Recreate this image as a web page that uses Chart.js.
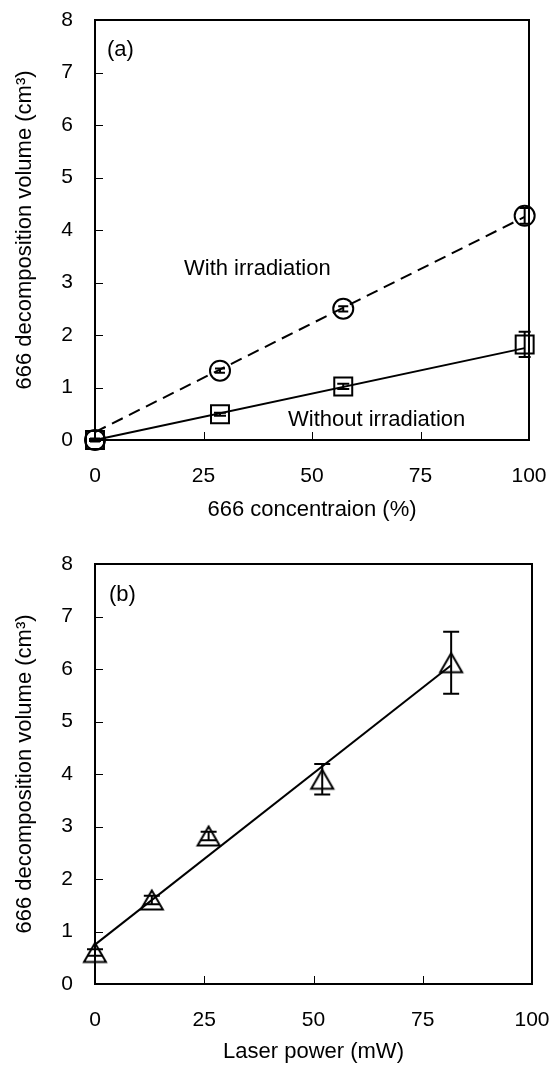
<!DOCTYPE html>
<html><head><meta charset="utf-8">
<script src="https://cdn.jsdelivr.net/npm/chart.js@4.4.1/dist/chart.umd.min.js"></script>
<style>
html,body{margin:0;padding:0;background:#fff;}
canvas{display:block;}
</style></head><body>
<canvas id="ca" width="549" height="530"></canvas>
<canvas id="cb" width="549" height="535"></canvas>
<script>
// ---------- data: panel (a) ----------
const concentration = [0, 28.8, 57.2, 99];
const withIrradiation = [0, 1.32, 2.5, 4.27];
const withIrradiationErr = [0.03, 0.04, 0.05, 0.15];
const withoutIrradiation = [0, 0.49, 1.02, 1.82];
const withoutIrradiationErr = [0.02, 0.03, 0.05, 0.24];
const fitWithX = [0, 99];
const fitWithY = [0.15, 4.25];
const fitWithoutX = [0, 99];
const fitWithoutY = [0, 1.75];
// ---------- data: panel (b) ----------
const laserPower = [0, 13, 26, 52, 81.5];
const volumeB = [0.6, 1.6, 2.82, 3.9, 6.12];
const volumeBErr = [0.06, 0.08, 0.08, 0.29, 0.59];
const fitBX = [0, 81.5];
const fitBY = [0.75, 6.07];
// ---------- ticks / labels ----------
const xTickValues = [0, 25, 50, 75, 100];
const yTickValues = [0, 1, 2, 3, 4, 5, 6, 7, 8];
const yTitle = '666 decomposition volume (cm³)';
const xTitleA = '666 concentraion (%)';
const xTitleB = 'Laser power (mW)';
const labelA = ['(a)', 'With irradiation', 'Without irradiation'];
const labelB = ['(b)'];

const TEXT_FONT = "'Liberation Sans', Arial, sans-serif";
const TICK_FONT = "'Liberation Sans Narrow', 'Liberation Sans', Arial, sans-serif";

function pts(xs, ys) { return xs.map((x, i) => ({x: x, y: ys[i]})); }

function triCanvas() {
  const c = document.createElement('canvas');
  c.width = 28; c.height = 26;
  const g = c.getContext('2d');
  g.strokeStyle = '#000'; g.lineWidth = 2; g.lineJoin = 'miter';
  g.beginPath(); g.moveTo(14, 3.5); g.lineTo(25, 22.5); g.lineTo(3, 22.5); g.closePath(); g.stroke();
  return c;
}

const framePlugin = {
  id: 'frame',
  beforeDatasetsDraw(chart) {
    const {ctx, chartArea: a, scales} = chart;
    ctx.save();
    ctx.strokeStyle = '#000';
    ctx.lineWidth = 1;
    xTickValues.forEach(v => {
      const px = Math.round(scales.x.getPixelForValue(v)) + 0.5;
      ctx.beginPath(); ctx.moveTo(px, a.bottom); ctx.lineTo(px, a.bottom - 8); ctx.stroke();
    });
    yTickValues.forEach(v => {
      const py = Math.round(scales.y.getPixelForValue(v)) + 0.5;
      ctx.beginPath(); ctx.moveTo(a.left, py); ctx.lineTo(a.left + 8, py); ctx.stroke();
    });
    ctx.lineWidth = 2;
    ctx.strokeRect(a.left, a.top, a.right - a.left, a.bottom - a.top);
    ctx.restore();
  },
  afterDatasetsDraw(chart, args, opts) {
    const {ctx, scales} = chart;
    ctx.save();
    ctx.strokeStyle = '#000';
    ctx.lineWidth = 2;
    (opts.errors || []).forEach(e => {
      const meta = chart.getDatasetMeta(e.dataset);
      const ds = chart.data.datasets[e.dataset];
      meta.data.forEach((el, j) => {
        const v = ds.data[j].y, err = e.values[j];
        const x = el.x;
        const y1 = scales.y.getPixelForValue(v + err);
        const y2 = scales.y.getPixelForValue(v - err);
        ctx.beginPath();
        ctx.moveTo(x, y1); ctx.lineTo(x, y2);
        ctx.moveTo(x - e.cap, y1); ctx.lineTo(x + e.cap, y1);
        ctx.moveTo(x - e.cap, y2); ctx.lineTo(x + e.cap, y2);
        ctx.stroke();
      });
    });
    ctx.fillStyle = '#000';
    ctx.font = '22px ' + TEXT_FONT;
    ctx.textBaseline = 'alphabetic';
    ctx.textAlign = 'left';
    (opts.texts || []).forEach(t => { ctx.fillText(t.text, t.x, t.y); });
    ctx.restore();
  }
};

function makeScales(xTitle, plot, H, titlePadBottom) {
  return {
    x: {
      type: 'linear', min: 0, max: 100,
      afterBuildTicks: s => { s.ticks = xTickValues.map(v => ({value: v})); },
      afterFit: s => { s.height = H - plot.bottom; s.paddingLeft = 0; s.paddingRight = 0; },
      grid: {display: false, drawTicks: false},
      border: {display: false},
      ticks: {color: '#000', font: {family: TICK_FONT, size: 21}, padding: 24, maxRotation: 0, autoSkip: false},
      title: {display: true, text: xTitle, color: '#000', font: {family: TEXT_FONT, size: 22}, padding: {top: 0, bottom: titlePadBottom}}
    },
    y: {
      type: 'linear', min: 0, max: 8,
      afterBuildTicks: s => { s.ticks = yTickValues.map(v => ({value: v})); },
      afterFit: s => { s.width = plot.left; s.paddingTop = 0; s.paddingBottom = 0; },
      grid: {display: false, drawTicks: false},
      border: {display: false},
      ticks: {color: '#000', font: {family: TICK_FONT, size: 21}, padding: 22},
      title: {display: true, text: yTitle, color: '#000', font: {family: TEXT_FONT, size: 22}, padding: {top: 12, bottom: 0}}
    }
  };
}

function commonOpts(scales, plot, W, pluginOpts) {
  return {
    responsive: false, animation: false, events: [],
    layout: {padding: {left: 0, top: plot.top, right: W - plot.right, bottom: 0}},
    scales: scales,
    plugins: {legend: {display: false}, tooltip: {enabled: false}, frame: pluginOpts}
  };
}

const lineDs = (data, dash) => ({
  type: 'scatter', data: data, showLine: true, borderColor: '#000', borderWidth: 2,
  borderDash: dash, pointRadius: 0, fill: false, clip: false
});

// ---------- chart (a) ----------
const plotA = {left: 95, right: 529, top: 20, bottom: 440};
new Chart(document.getElementById('ca'), {
  type: 'scatter',
  data: {
    datasets: [
      lineDs(pts(fitWithX, fitWithY), [12, 7]),
      lineDs(pts(fitWithoutX, fitWithoutY), []),
      {data: pts(concentration, withIrradiation), pointStyle: 'circle', pointRadius: 10,
       pointBorderWidth: 2, pointBorderColor: '#000', pointBackgroundColor: 'rgba(0,0,0,0)', clip: false},
      {data: pts(concentration, withoutIrradiation), pointStyle: 'rect', pointRadius: 12.7,
       pointBorderWidth: 2, pointBorderColor: '#000', pointBackgroundColor: 'rgba(0,0,0,0)', clip: false}
    ]
  },
  options: commonOpts(makeScales(xTitleA, plotA, 530, 7), plotA, 549, {
    errors: [
      {dataset: 2, values: withIrradiationErr, cap: 5},
      {dataset: 3, values: withoutIrradiationErr, cap: 6}
    ],
    texts: [
      {text: labelA[0], x: 107, y: 56},
      {text: labelA[1], x: 184, y: 275},
      {text: labelA[2], x: 288, y: 426}
    ]
  }),
  plugins: [framePlugin]
});

// ---------- chart (b) ----------
const plotB = {left: 95, right: 532, top: 34, bottom: 454};
new Chart(document.getElementById('cb'), {
  type: 'scatter',
  data: {
    datasets: [
      lineDs(pts(fitBX, fitBY), []),
      {data: pts(laserPower, volumeB), pointStyle: triCanvas(), pointRadius: 12,
       pointBorderWidth: 2, pointBorderColor: '#000', pointBackgroundColor: 'rgba(0,0,0,0)', clip: false}
    ]
  },
  options: commonOpts(makeScales(xTitleB, plotB, 535, 0), plotB, 549, {
    errors: [{dataset: 1, values: volumeBErr, cap: 8}],
    texts: [{text: labelB[0], x: 109, y: 71}]
  }),
  plugins: [framePlugin]
});
</script></body></html>
